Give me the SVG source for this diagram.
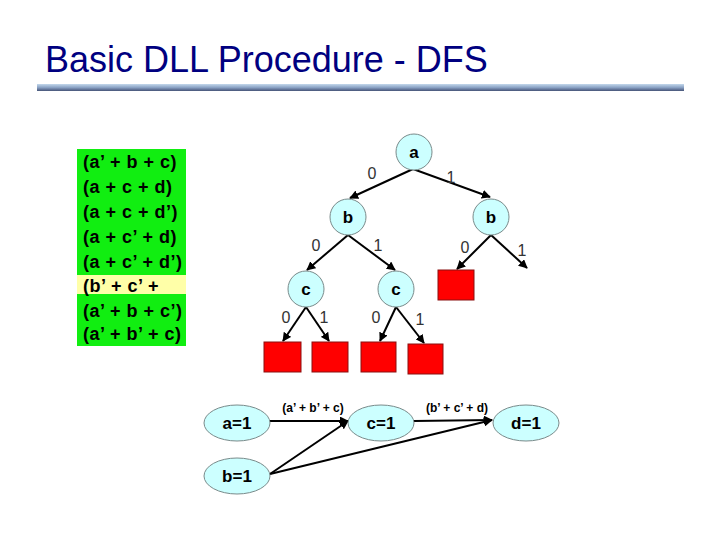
<svg xmlns="http://www.w3.org/2000/svg" width="720" height="540" viewBox="0 0 720 540">
<defs>
<linearGradient id="bar" x1="0" y1="0" x2="0" y2="1">
<stop offset="0" stop-color="#c4d8ec"/>
<stop offset="0.5" stop-color="#8aa2c4"/>
<stop offset="1" stop-color="#465478"/>
</linearGradient>
<marker id="arr" viewBox="0 0 10 10" refX="9" refY="5" markerWidth="4.5" markerHeight="4.5" orient="auto" markerUnits="strokeWidth">
<path d="M0,0 L10,5 L0,10 z" fill="#000"/>
</marker>
<style>
.title{font-family:"Liberation Sans",Arial,sans-serif;font-size:36px;fill:#000080}
.cl{font-family:"Liberation Sans",Arial,sans-serif;font-size:18px;font-weight:bold;fill:#000;letter-spacing:0.5px}
.node circle{fill:#ccffff;stroke:#7a8a8a;stroke-width:1}
.node ellipse{fill:#ccffff;stroke:#7a8a8a;stroke-width:1}
.nt{font-family:"Liberation Sans",Arial,sans-serif;font-size:17px;font-weight:bold;fill:#000;text-anchor:middle;dominant-baseline:central}
.leaf{fill:#ff0000;stroke:#8a1010;stroke-width:1}
.edge{stroke:#000;stroke-width:2;fill:none;marker-end:url(#arr)}
.lbl{font-family:"Liberation Sans",Arial,sans-serif;font-size:16px;fill:#333;text-anchor:middle;dominant-baseline:central}
.el{font-family:"Liberation Sans",Arial,sans-serif;font-size:12px;font-weight:bold;fill:#000;text-anchor:middle}
</style>
</defs>
<rect width="720" height="540" fill="#fff"/>
<text class="title" x="45" y="72">Basic DLL Procedure - DFS</text>
<rect x="37" y="84" width="647" height="7" fill="url(#bar)"/>

<g id="clauses">
<rect x="77" y="149" width="109" height="197" fill="#11ee11"/>
<rect x="77" y="275" width="109" height="19" fill="#ffffa8"/>
<text class="cl" x="83" y="168">(a’ + b + c)</text>
<text class="cl" x="83" y="193">(a + c + d)</text>
<text class="cl" x="83" y="218">(a + c + d’)</text>
<text class="cl" x="83" y="243">(a + c’ + d)</text>
<text class="cl" x="83" y="268">(a + c’ + d’)</text>
<text class="cl" x="83" y="292">(b’ + c’ +</text>
<text class="cl" x="83" y="317">(a’ + b + c’)</text>
<text class="cl" x="83" y="340">(a’ + b’ + c)</text>
</g>

<g id="connectors">
<line class="edge" x1="413" y1="169" x2="350" y2="198"/>
<line class="edge" x1="413" y1="169" x2="490" y2="197"/>
<line class="edge" x1="348" y1="235" x2="307" y2="270"/>
<line class="edge" x1="348" y1="235" x2="395" y2="270"/>
<line class="edge" x1="491" y1="235" x2="457" y2="269"/>
<line class="edge" x1="491" y1="235" x2="527" y2="268"/>
<line class="edge" x1="306" y1="307" x2="283" y2="341"/>
<line class="edge" x1="306" y1="307" x2="329" y2="341"/>
<line class="edge" x1="396" y1="307" x2="380" y2="341"/>
<line class="edge" x1="396" y1="307" x2="424" y2="343"/>
<line class="edge" x1="270" y1="421" x2="348" y2="421"/>
<line class="edge" x1="414" y1="421" x2="492" y2="420"/>
<line class="edge" x1="270" y1="474" x2="348" y2="421"/>
<line class="edge" x1="270" y1="474" x2="492" y2="420"/>
<text class="lbl" x="372" y="173">0</text>
<text class="lbl" x="451" y="177">1</text>
<text class="lbl" x="316" y="245">0</text>
<text class="lbl" x="378" y="245">1</text>
<text class="lbl" x="465" y="247">0</text>
<text class="lbl" x="522" y="250">1</text>
<text class="lbl" x="286" y="317">0</text>
<text class="lbl" x="324" y="317">1</text>
<text class="lbl" x="376" y="317">0</text>
<text class="lbl" x="420" y="319">1</text>
<text class="el" x="313" y="412">(a’ + b’ + c)</text>
<text class="el" x="457" y="412">(b’ + c’ + d)</text>
</g>

<g id="node-a" class="node"><circle cx="414" cy="152" r="18"/><text class="nt" x="414" y="152">a</text></g>
<g id="node-b1" class="node"><circle cx="348" cy="217" r="18"/><text class="nt" x="348" y="217">b</text></g>
<g id="node-b2" class="node"><circle cx="491" cy="217" r="18"/><text class="nt" x="491" y="217">b</text></g>
<g id="node-c1" class="node"><circle cx="306" cy="289" r="18"/><text class="nt" x="306" y="289">c</text></g>
<g id="node-c2" class="node"><circle cx="396" cy="289" r="18"/><text class="nt" x="396" y="289">c</text></g>
<g id="leaf-1"><rect class="leaf" x="438" y="270" width="36" height="30"/></g>
<g id="leaf-2"><rect class="leaf" x="264" y="342" width="37" height="30"/></g>
<g id="leaf-3"><rect class="leaf" x="312" y="342" width="36" height="30"/></g>
<g id="leaf-4"><rect class="leaf" x="361" y="342" width="35" height="30"/></g>
<g id="leaf-5"><rect class="leaf" x="408" y="344" width="35" height="30"/></g>

<g id="node-a1" class="node"><ellipse cx="237" cy="423" rx="33" ry="18"/><text class="nt" x="237" y="423">a=1</text></g>
<g id="node-b1v" class="node"><ellipse cx="237" cy="476" rx="33" ry="18"/><text class="nt" x="237" y="476">b=1</text></g>
<g id="node-c1v" class="node"><ellipse cx="381" cy="423" rx="33" ry="18"/><text class="nt" x="381" y="423">c=1</text></g>
<g id="node-d1" class="node"><ellipse cx="526" cy="423" rx="33" ry="18"/><text class="nt" x="526" y="423">d=1</text></g>
</svg>
